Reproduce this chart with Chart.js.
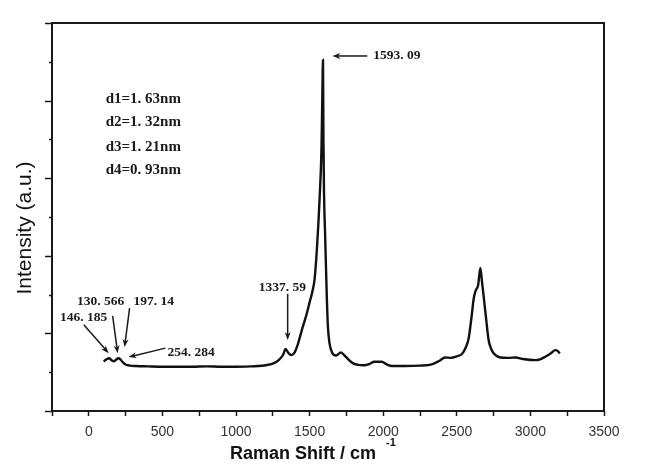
<!DOCTYPE html>
<html>
<head>
<meta charset="utf-8">
<script src="https://cdn.jsdelivr.net/npm/chart.js@4.4.1/dist/chart.umd.min.js"></script>
<style>
  body { margin: 0; background: #fff; }
  #wrap { width: 646px; height: 472px; }
</style>
</head>
<body>
<div id="wrap"><canvas id="chartRaman"></canvas></div>
<script>
// Raman spectrum
const shift = [100, 120, 138, 155, 170, 185, 200, 215, 230, 250, 280, 320, 400, 500, 600, 700, 800, 900, 1000,
  1100, 1150, 1200, 1250, 1290, 1320, 1337, 1355, 1375, 1395, 1420, 1453, 1480, 1500, 1520, 1534, 1550, 1568,
  1581, 1586, 1591, 1594, 1598, 1605, 1612, 1618, 1624, 1635, 1655, 1680, 1700, 1712, 1730, 1750, 1790, 1830,
  1870, 1905, 1940, 1990, 2020, 2060, 2150, 2250, 2330, 2380, 2420, 2460, 2500, 2535, 2560, 2580, 2600, 2615,
  2628, 2645, 2660, 2672, 2684, 2698, 2716, 2735, 2750, 2797, 2850, 2899, 2950, 3034, 3070, 3101, 3140, 3169,
  3185, 3200];
const intensity = [1.28, 1.33, 1.36, 1.31, 1.28, 1.32, 1.36, 1.33, 1.26, 1.20, 1.17, 1.16, 1.15, 1.14, 1.14, 1.14, 1.15, 1.14, 1.14,
  1.15, 1.16, 1.18, 1.22, 1.31, 1.45, 1.60, 1.50, 1.44, 1.49, 1.72, 2.16, 2.50, 2.80, 3.10, 3.40, 4.20, 5.48,
  6.80, 8.00, 9.05, 7.00, 5.60, 4.60, 3.60, 2.80, 2.20, 1.75, 1.49, 1.43, 1.48, 1.51, 1.46, 1.38, 1.24, 1.19,
  1.18, 1.21, 1.27, 1.27, 1.21, 1.16, 1.16, 1.17, 1.20, 1.29, 1.38, 1.37, 1.41, 1.47, 1.63, 1.86, 2.42, 2.90,
  3.10, 3.25, 3.69, 3.30, 2.90, 2.42, 1.83, 1.59, 1.49, 1.38, 1.37, 1.38, 1.34, 1.31, 1.34, 1.40, 1.49, 1.57,
  1.55, 1.48];

// Axis
const xTickLabels = ['0', '500', '1000', '1500', '2000', '2500', '3000', '3500'];
const yTicks = [0, 1, 2, 3, 4, 5, 6, 7, 8, 9, 10];

// Peak annotations (data coordinates)
const peakLabels = ['1593. 09', '1337. 59', '130. 566', '197. 14', '146. 185', '254. 284'];
const peakLabelX = [1932, 1155, -81, 304, -196, 534];
const peakLabelY = [9.15, 3.18, 2.81, 2.81, 2.4, 1.52];
const arrowFromX = [1892, 1351, 162, 277, -34, 520];
const arrowFromY = [9.15, 3.02, 2.45, 2.65, 2.22, 1.62];
const arrowToX = [1655, 1351, 196, 243, 135, 270];
const arrowToY = [9.15, 1.83, 1.49, 1.65, 1.49, 1.39];

// Diameter notes
const dLabels = ['d1=1. 63nm', 'd2=1. 32nm', 'd3=1. 21nm', 'd4=0. 93nm'];
const dLabelX = 115;
const dLabelY = [8.04, 7.45, 6.8, 6.21];

const points = shift.map(function(s, i) { return { x: s, y: intensity[i] }; });

function drawArrow(ctx, x1, y1, x2, y2) {
  const ang = Math.atan2(y2 - y1, x2 - x1);
  const len = 8, half = 3;
  ctx.beginPath();
  ctx.moveTo(x1, y1);
  ctx.lineTo(x2 - Math.cos(ang) * len * 0.6, y2 - Math.sin(ang) * len * 0.6);
  ctx.stroke();
  ctx.beginPath();
  ctx.moveTo(x2, y2);
  ctx.lineTo(x2 - Math.cos(ang) * len - Math.sin(ang) * half, y2 - Math.sin(ang) * len + Math.cos(ang) * half);
  ctx.lineTo(x2 - Math.cos(ang) * len * 0.7, y2 - Math.sin(ang) * len * 0.7);
  ctx.lineTo(x2 - Math.cos(ang) * len + Math.sin(ang) * half, y2 - Math.sin(ang) * len - Math.cos(ang) * half);
  ctx.closePath();
  ctx.fill();
}

const decorPlugin = {
  id: 'decor',
  afterDraw(chart) {
    const ctx = chart.ctx;
    const area = chart.chartArea;
    const x = chart.scales.x;
    const y = chart.scales.y;
    ctx.save();

    // frame
    ctx.strokeStyle = '#1a1a1a';
    ctx.lineWidth = 2;
    ctx.strokeRect(area.left, area.top, area.right - area.left, area.bottom - area.top);

    // y ticks (long on even values)
    ctx.lineWidth = 1.5;
    yTicks.forEach(function(v) {
      const py = Math.round(y.getPixelForValue(v)) + 0.5;
      const len = v % 2 === 0 ? 7 : 3;
      ctx.beginPath();
      ctx.moveTo(area.left - len, py);
      ctx.lineTo(area.left, py);
      ctx.stroke();
    });

    // axis titles
    ctx.fillStyle = '#111';
    ctx.font = '21px "Liberation Sans", Arial, sans-serif';
    ctx.textAlign = 'center';
    ctx.textBaseline = 'middle';
    ctx.save();
    ctx.translate(area.left - 27, (area.top + area.bottom) / 2 + 11);
    ctx.rotate(-Math.PI / 2);
    ctx.fillText('Intensity (a.u.)', 0, 0);
    ctx.restore();

    ctx.textAlign = 'left';
    ctx.font = 'bold 18px "Liberation Sans", Arial, sans-serif';
    ctx.fillText('Raman Shift / cm', 230, area.bottom + 43);
    ctx.font = 'bold 11px "Liberation Sans", Arial, sans-serif';
    ctx.fillText('-1', 386, area.bottom + 32);

    // diameter notes
    ctx.fillStyle = '#1a1a1a';
    ctx.font = 'bold 15px "Liberation Serif", "Times New Roman", serif';
    dLabels.forEach(function(t, i) {
      ctx.fillText(t, x.getPixelForValue(dLabelX), y.getPixelForValue(dLabelY[i]));
    });

    // peak labels and arrows
    ctx.font = 'bold 13.5px "Liberation Serif", "Times New Roman", serif';
    peakLabels.forEach(function(t, i) {
      ctx.fillText(t, x.getPixelForValue(peakLabelX[i]), y.getPixelForValue(peakLabelY[i]));
    });
    ctx.strokeStyle = '#1a1a1a';
    ctx.lineWidth = 1.5;
    arrowFromX.forEach(function(_, i) {
      drawArrow(ctx,
        x.getPixelForValue(arrowFromX[i]), y.getPixelForValue(arrowFromY[i]),
        x.getPixelForValue(arrowToX[i]), y.getPixelForValue(arrowToY[i]));
    });

    ctx.restore();
  }
};

new Chart(document.getElementById('chartRaman'), {
  type: 'line',
  data: {
    datasets: [{
      label: 'Raman',
      data: points,
      borderColor: '#111',
      borderWidth: 2.4,
      pointRadius: 0,
      cubicInterpolationMode: 'monotone',
      fill: false
    }]
  },
  options: {
    responsive: true,
    maintainAspectRatio: false,
    animation: false,
    layout: { padding: { top: 23, right: 42, left: 0, bottom: 0 } },
    plugins: {
      legend: { display: false },
      tooltip: { enabled: false }
    },
    scales: {
      x: {
        type: 'linear',
        min: -250,
        max: 3500,
        afterFit: function(scale) { scale.height = 61; },
        border: { display: false },
        grid: {
          drawOnChartArea: false,
          drawTicks: true,
          tickLength: 5,
          tickWidth: 1.5,
          tickColor: '#1a1a1a'
        },
        ticks: {
          stepSize: 250,
          autoSkip: false,
          maxRotation: 0,
          padding: 8,
          color: '#333',
          font: { family: "'Liberation Sans', Arial, sans-serif", size: 14 },
          callback: function(v) {
            const s = String(v);
            return xTickLabels.indexOf(s) >= 0 ? s : '';
          }
        }
      },
      y: {
        min: yTicks[0],
        max: yTicks[yTicks.length - 1],
        afterFit: function(scale) { scale.width = 52; },
        border: { display: false },
        grid: { display: false },
        ticks: { display: false, stepSize: 1 }
      }
    }
  },
  plugins: [decorPlugin]
});
</script>
</body>
</html>
